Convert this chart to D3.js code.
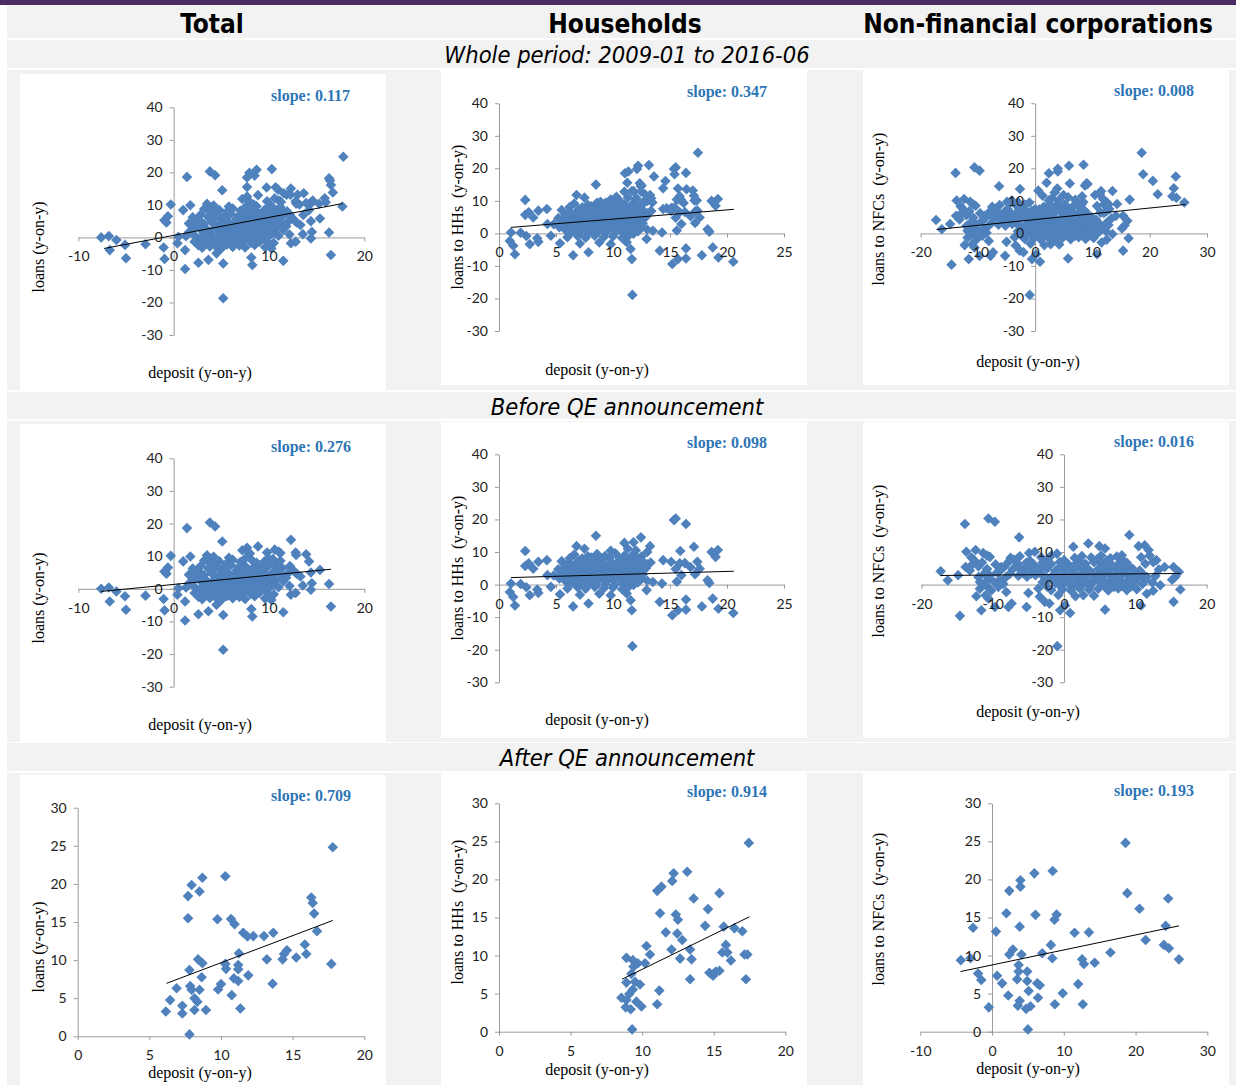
<!DOCTYPE html>
<html>
<head>
<meta charset="utf-8">
<script src="https://cdn.jsdelivr.net/npm/d3@7"></script>
<style>
  body { margin: 0; background: #fff; }
  svg { display: block; }
</style>
</head>
<body>
<svg id="chart"></svg>
<script>
// ---- data ----
const sectors = ["Total", "Households", "Non-financial corporations"];
const periods = ["Whole period: 2009-01 to 2016-06", "Before QE announcement", "After QE announcement"];
const yTitles = ["loans (y-on-y)", "loans to HHs  (y-on-y)", "loans to NFCs  (y-on-y)"];
const xTitle = "deposit (y-on-y)";
// row order: whole, before, after; column order: total, HH, NFC
const slopeLabels = ["0.117", "0.347", "0.008", "0.276", "0.098", "0.016", "0.709", "0.914", "0.193"];
const trendLines = [
  [[-7.3, -3.4], [17.7, 10.4]], [[1.05, 1.85], [20.6, 7.4]], [[-17.2, 1.2], [26.2, 8.9]],
  [[-7.6, -0.8], [16.5, 6.0]], [[1.05, 2.15], [20.6, 4.1]], [[-17.3, 2.8], [16.3, 3.4]],
  [[6.2, 6.95], [17.8, 15.2]], [[8.6, 6.9], [17.5, 15.1]], [[-4.4, 7.9], [26.05, 13.9]]
];
const xTickValues = [
  [-10, 0, 10, 20], [0, 5, 10, 15, 20, 25], [-20, -10, 0, 10, 20, 30],
  [-10, 0, 10, 20], [0, 5, 10, 15, 20, 25], [-20, -10, 0, 10, 20],
  [0, 5, 10, 15, 20], [0, 5, 10, 15, 20], [-10, 0, 10, 20, 30]
];
const yTicksFull = [-30, -20, -10, 0, 10, 20, 30, 40];
const yTicksAfter = [0, 5, 10, 15, 20, 25, 30];

// [deposit, loans] pairs, before the QE announcement
const totalBefore = [
  [-7.6,0],[-6.8,0.4],[-6.7,-3.9],[-6.0,-0.8],[-5.1,-2.3],[-5.0,-6.4],[-2.95,-2.1],[-1.05,-3.1],[-0.95,-6.6],
  [-0.97,5.3],[-0.6,6.5],[-0.75,4.6],[-0.3,10.1],[1.4,18.6],[1.2,-9.7],[1.75,9.9],[1.0,8.4],[2.6,-7.8],
  [3.8,20.3],[4.35,19.1],[5.1,14.5],[5.2,-8.0],[5.2,-18.7],[4.5,-4.9],[3.65,-6.9],[8.85,13.0],[8.15,-6.2],
  [8.25,-8.5],[9.8,11.1],[9.9,-2.1],[10.25,-3.4],[11.5,-7.2],[12.15,0.9],[12.3,15.0],[12.3,-1.8],[12.8,-1.3],
  [12.8,11.1],[12.85,10.4],[13.3,3.8],[13.55,1.0],[13.9,10.6],[14.2,8.4],[14.4,5.0],[14.5,1.7],[14.4,-0.3],
  [15.35,5.8],[16.3,1.5],[16.5,-5.4],[9.9,9.4],[11.0,11.4],[7.8,11.4],[7.7,12.6],[0.5,0.2],[0.4,-1.8],[1.2,-3.9],
  [3.2,8.7],[4.0,9.3],[4.8,8.4],[6.2,8.9],[7.0,8.2],[7.6,9.6],[8.2,8.8],[9.5,8.3],[10.4,9.1],[11.2,8.6],
  [3.5,10.3],[4.2,9.8],[5.8,9.5],[7.2,11.8],[8.0,10.8],[10.6,12.0],[11.2,11.0],
  [3.9,7.8],[5.6,7.9],[7.2,7.6],[8.7,8.0],[10.1,7.7],
  [2.0,6.2],[2.8,6.9],[3.6,6.4],[4.5,7.1],[5.3,6.6],[6.0,7.3],[6.8,6.5],[7.5,7.0],[8.3,6.3],[9.0,7.2],
  [9.8,6.7],[10.6,7.4],[11.4,6.4],[12.2,7.0],
  [2.6,5.6],[4.2,5.8],[5.0,5.5],[6.6,5.7],[7.8,5.4],[8.5,5.9],[9.4,5.6],[11.0,5.8],[12.6,5.5],
  [1.6,4.3],[2.4,4.9],[3.2,4.2],[4.0,4.7],[4.9,4.4],[5.7,5.0],[6.4,4.3],[7.2,4.8],[8.0,4.1],[8.8,4.9],
  [9.6,4.5],[10.4,5.1],[11.2,4.4],[12.0,4.8],[12.9,4.6],
  [2.2,3.4],[3.0,3.7],[4.6,3.5],[5.4,3.8],[6.2,3.3],[7.0,3.6],[7.8,3.4],[8.6,3.8],[9.4,3.5],[10.2,3.7],[11.8,3.4],
  [1.9,2.2],[2.7,2.8],[3.5,2.4],[4.3,2.9],[5.1,2.3],[5.9,2.7],[6.7,2.2],[7.5,2.9],[8.3,2.4],[9.1,2.8],
  [9.9,2.1],[10.7,2.7],[11.5,2.3],
  [1.6,1.6],[3.2,1.4],[4.0,1.8],[4.9,1.5],[5.7,1.3],[6.5,1.7],[7.3,1.5],[8.0,1.9],[8.9,1.4],[9.7,1.6],[10.6,1.3],
  [1.3,0.4],[2.1,0.9],[2.9,0.2],[3.8,0.8],[4.6,0.3],[5.4,0.9],[6.2,0.4],[7.0,0.7],[7.8,0.1],[8.6,0.8],
  [9.4,0.3],[10.2,0.9],[11.0,0.5],
  [2.5,-0.4],[3.4,-0.7],[4.2,-0.3],[5.1,-0.6],[5.9,-0.2],[6.8,-0.7],[7.6,-0.4],[8.4,-0.8],[9.2,-0.3],
  [2.2,-1.3],[3.1,-1.8],[3.9,-1.2],[4.7,-1.7],[5.6,-1.4],[6.4,-1.9],[7.3,-1.2],[8.1,-1.6],[9.0,-1.3],
  [9.8,-1.1],[10.5,-1.7],
  [2.6,-2.4],[4.4,-2.6],[5.6,-2.2],[6.9,-2.5],[8.5,-2.3],
  [3.0,-3.2],[3.8,-2.8],[5.0,-3.4],[6.2,-2.9],[7.5,-3.1],[9.6,-3.0]
];
const hhBefore = [
  [1.05,0.3],[0.95,-2.3],[1.25,-3.8],[1.4,-6.4],[2.3,10.3],[2.3,5.7],[2.6,6.5],[2.7,-3.3],[3.0,4.9],
  [3.45,7.0],[3.35,-1.5],[3.45,-2.6],[4.2,7.5],[4.25,2.9],[4.55,-0.7],[5.35,-3.0],[6.5,-6.7],[6.8,11.8],
  [7.85,-5.8],[8.5,15.0],[11.55,-4.8],[11.65,-7.9],[11.7,-18.9],[12.45,14.5],[13.25,11.8],[14.1,-5.3],
  [14.4,7.5],[15.2,-9.4],[15.35,19.8],[15.5,20.3],[16.4,18.6],[16.4,-4.6],[15.7,-7.9],[16.4,-7.7],
  [17.1,11.6],[17.8,-6.7],[18.75,-4.3],[18.45,0.5],[18.65,10.0],[19.2,10.6],[19.0,8.5],[19.25,-7.4],
  [20.55,-8.7],[15.9,10.3],[15.85,6.5],[17.4,7.0],[17.6,4.9],[18.3,1.3],[12.95,-1.7],[13.5,0.8],[14.3,0.3],
  [1.9,0.2],[2.4,-0.8],
  [6.6,9.2],[7.8,8.7],[8.6,9.4],[9.3,8.8],[10.2,9.6],[11.0,8.9],[11.8,9.3],[12.5,8.6],[11.0,12.8],
  [11.3,11.0],[12.0,10.5],[13.0,10.0],[9.8,10.4],[7.5,11.0],[11.8,13.0],
  [6.2,8.1],[7.3,8.0],[8.1,8.3],[9.0,7.9],[9.7,8.2],[10.6,8.0],[11.5,8.2],[12.2,7.9],
  [5.5,7.2],[6.2,6.7],[7.0,7.4],[7.7,6.8],[8.4,7.3],[9.1,6.6],[9.8,7.1],[10.5,6.9],[11.2,7.5],[11.9,6.7],
  [12.6,7.2],[13.3,6.8],[15.1,7.0],[16.3,6.6],
  [5.8,6.0],[6.6,5.9],[7.4,6.2],[8.1,5.8],[8.8,6.1],[9.5,5.9],[10.2,6.2],[10.9,5.8],[11.6,6.1],[12.4,6.0],[13.0,6.2],
  [5.2,4.7],[5.9,5.3],[6.6,4.8],[7.3,5.2],[8.0,4.6],[8.7,5.1],[9.4,4.7],[10.1,5.4],[10.8,4.8],[11.5,5.2],
  [12.2,4.6],[12.9,5.1],[15.5,4.8],[16.8,5.3],
  [5.5,4.0],[6.3,3.9],[7.0,4.2],[7.7,3.8],[8.4,4.1],[9.1,3.9],[9.8,4.2],[10.4,3.9],[11.1,4.1],[11.8,3.9],[12.6,4.2],
  [4.8,2.8],[5.6,3.2],[6.3,2.7],[7.0,3.3],[7.7,2.9],[8.4,3.1],[9.1,2.6],[9.8,3.2],[10.5,2.8],[11.2,3.3],
  [11.9,2.7],[12.6,3.1],[16.0,2.9],[17.2,3.2],
  [5.3,1.9],[6.1,2.1],[6.8,1.8],[7.5,2.2],[8.2,1.9],[8.9,2.1],[9.6,1.8],[10.3,2.2],[11.0,1.9],[11.7,2.1],[12.5,1.8],
  [5.8,1.2],[6.5,0.7],[7.2,1.1],[7.9,0.6],[8.7,1.3],[9.4,0.8],[10.1,1.2],[10.8,0.6],[11.5,1.1],[12.2,0.7],
  [13.0,1.2],[15.6,0.9],
  [6.2,0.1],[7.0,-0.2],[7.8,0.2],[8.5,-0.1],[9.3,0.1],[10.1,-0.2],[10.9,0.2],[11.8,-0.1],
  [6.0,-1.2],[6.9,-0.8],[7.6,-1.3],[8.4,-0.7],[9.2,-1.1],[10.0,-0.9],[10.8,-1.4],[11.4,-0.6],
  [7.1,-3.1],[8.8,-2.8],[9.8,-3.3],[11.2,-2.7]
];
const nfcBefore = [
  [-17.3,4.1],[-16.3,1.3],[-14.85,2.9],[-14.6,-9.6],[-13.9,18.6],[-13.7,10.1],[-13.8,5.4],[-12.4,10.6],
  [-12.6,7.5],[-12.3,-3.6],[-11.6,-7.9],[-11.8,0.8],[-11.35,9.7],[-10.6,20.3],[-9.7,19.3],[-10.4,8.5],
  [-10.6,-4.3],[-9.7,-6.9],[-9.2,-0.7],[-8.8,5.4],[-8.1,-2.3],[-7.8,-6.9],[-7.35,-5.8],[-6.3,14.5],
  [-5.25,-6.9],[-5.0,-2.6],[-4.9,9.7],[-4.1,10.1],[-2.7,-5.3],[-2.05,-5.8],[-1.0,9.5],[-0.95,-18.9],
  [-0.55,-7.9],[0.85,-8.7],[0.15,-6.4],[1.3,11.6],[2.7,-3.3],[3.4,12.6],[4.95,11.8],[5.75,-7.7],[5.75,11.1],
  [8.1,9.0],[9.15,15.2],[10.45,11.8],[10.8,-6.4],[11.3,12.1],[11.85,10.6],[11.6,-2.8],[12.5,-1.9],
  [12.95,7.5],[13.5,-0.2],[14.1,5.4],[15.35,5.4],[15.35,-5.3],[15.6,2.4],[16.1,3.9],[16.3,-1.5],[15.15,1.5],
  [-13.0,8.3],[-10.8,8.9],[-7.5,8.2],[-6.2,8.7],[-3.2,8.4],[-1.8,8.9],[1.5,8.2],[2.5,8.8],[3.8,8.3],
  [5.2,8.9],[6.5,8.1],[7.4,8.6],[10.8,8.4],[12.0,8.9],
  [-7.0,7.6],[-4.8,7.4],[-2.4,7.7],[0.0,7.5],[2.2,7.3],[4.6,7.7],[6.0,7.4],[8.2,7.6],
  [-12.8,6.3],[-11.5,6.8],[-9.6,6.2],[-7.8,6.9],[-6.5,6.4],[-5.3,6.7],[-4.2,6.1],[-3.0,6.8],[-1.8,6.3],
  [-0.6,6.9],[0.6,6.2],[1.8,6.7],[3.0,6.4],[4.2,6.9],[5.3,6.3],[6.4,6.8],[7.6,6.2],[8.8,6.7],[11.4,6.4],[12.5,6.9],
  [-12.0,5.6],[-8.4,5.4],[-6.6,5.7],[-5.4,5.3],[-3.0,5.6],[-0.6,5.4],[1.8,5.7],[3.0,5.3],[5.4,5.6],[6.6,5.4],
  [7.8,5.7],[9.0,5.5],
  [-13.2,4.3],[-10.8,4.8],[-9.0,4.2],[-7.2,4.7],[-6.0,4.4],[-4.8,4.9],[-3.6,4.3],[-2.4,4.8],[-1.2,4.2],
  [0.0,4.7],[1.2,4.4],[2.4,4.9],[3.6,4.3],[4.8,4.8],[6.0,4.2],[7.2,4.7],[8.4,4.4],[9.6,4.9],[10.6,4.3],[13.3,4.6],
  [-11.2,3.4],[-9.4,3.7],[-7.6,3.3],[-5.8,3.6],[-4.6,3.4],[-3.4,3.7],[-1.0,3.5],[0.2,3.3],[1.4,3.6],[2.6,3.4],
  [3.8,3.7],[5.0,3.3],[6.2,3.6],[7.4,3.4],[8.6,3.7],[9.8,3.5],[11.0,3.3],
  [-12.0,2.3],[-10.4,2.8],[-8.2,2.2],[-6.4,2.7],[-5.2,2.4],[-4.0,2.9],[-2.8,2.3],[-1.6,2.8],[-0.4,2.2],
  [0.8,2.7],[2.0,2.4],[3.2,2.9],[4.4,2.3],[5.6,2.8],[6.8,2.2],[8.0,2.7],[9.2,2.4],[10.4,2.9],[11.6,2.3],[12.8,2.6],
  [-10.6,1.6],[-9.0,1.4],[-2.2,1.5],[-1.0,1.7],[0.6,1.4],[1.8,1.6],[3.0,1.3],[4.2,1.7],[5.4,1.5],[6.6,1.4],
  [7.8,1.6],[9.0,1.3],[10.2,1.7],[11.4,1.5],
  [-11.2,0.3],[-9.8,0.8],[-8.5,0.2],[-3.0,0.7],[-1.2,0.4],[0.2,0.9],[1.4,0.3],[2.6,0.8],[3.8,0.2],[5.0,0.7],
  [6.2,0.4],[7.4,0.9],[8.6,0.3],[9.8,0.8],[11.0,0.2],[12.4,0.6],
  [-10.8,-0.5],[-2.4,-0.6],[-0.6,-0.3],[1.0,-0.7],[2.4,-0.4],[3.6,-0.6],[5.6,-0.3],[7.0,-0.7],[8.2,-0.4],[9.4,-0.6],
  [-11.8,-1.3],[-10.2,-1.8],[-3.6,-1.2],[-1.8,-1.7],[-0.2,-1.4],[1.0,-1.9],[2.2,-1.2],[3.5,-1.6],[4.8,-1.3],
  [6.2,-1.8],[7.6,-1.2],[8.8,-1.7],[10.2,-1.4],
  [-11.0,-3.3],[-3.4,-3.7],[-0.8,-3.2],[1.6,-3.6],[4.2,-3.4]
];
// after the QE announcement
const totalAfter = [
  [17.8,24.8],[10.3,21.0],[8.7,20.8],[7.95,19.85],[8.5,19.0],[7.7,18.4],[16.3,18.2],[16.4,17.5],[16.5,16.1],
  [7.7,15.5],[9.75,15.35],[10.7,15.4],[10.95,14.7],[11.55,13.6],[11.85,13.1],[12.25,13.15],[13.0,13.15],
  [13.65,13.6],[16.7,13.8],[15.85,12.05],[11.25,10.9],[14.6,11.3],[14.4,10.8],[14.3,10.1],[15.25,10.35],
  [15.95,10.8],[13.2,10.1],[8.4,10.1],[8.7,9.6],[10.3,9.5],[10.35,8.85],[11.2,9.35],[11.2,8.8],[17.7,9.5],
  [7.8,8.7],[11.9,8.0],[8.65,7.75],[10.9,7.6],[11.2,7.25],[13.6,6.9],[7.85,6.6],[6.9,6.3],[7.95,6.1],
  [8.5,6.1],[9.8,6.15],[10.0,6.85],[10.75,5.4],[6.45,4.75],[8.15,5.0],[8.35,4.55],[7.3,4.0],[6.15,3.25],
  [7.3,3.0],[8.15,3.45],[8.95,3.45],[11.35,3.65],[7.8,0.25]
];
const hhAfter = [
  [17.45,24.8],[13.15,21.0],[12.2,20.8],[12.1,19.8],[11.35,19.05],[11.05,18.5],[15.4,18.2],[13.6,17.5],
  [14.6,16.1],[11.25,15.55],[12.35,15.4],[12.5,14.7],[14.4,13.9],[15.7,13.8],[16.45,13.6],[11.65,13.05],
  [12.45,12.9],[17.0,13.2],[12.8,12.05],[10.3,11.25],[15.85,11.4],[12.05,10.8],[13.35,10.8],[10.55,10.15],
  [15.6,10.4],[15.95,10.4],[17.15,10.15],[17.35,10.15],[8.9,9.7],[9.35,9.4],[12.65,9.6],[13.45,9.5],
  [16.2,9.35],[9.7,9.0],[10.2,9.0],[9.4,8.55],[14.7,7.75],[15.15,7.9],[15.4,8.0],[14.95,7.35],[9.25,7.6],
  [13.35,6.9],[17.25,6.9],[8.9,6.45],[9.5,6.55],[9.85,6.2],[9.35,5.55],[11.2,5.4],[9.1,4.95],[8.55,4.45],
  [8.9,4.15],[9.6,3.95],[11.05,3.6],[8.85,3.2],[9.95,3.3],[9.2,2.95],[9.3,0.3]
];
const nfcAfter = [
  [18.6,24.8],[8.45,21.1],[5.9,20.8],[3.95,19.9],[3.95,19.05],[2.4,18.5],[18.85,18.2],[24.55,17.5],
  [20.55,16.15],[2.0,15.55],[6.05,15.35],[9.0,15.4],[8.7,14.7],[-2.65,13.65],[3.85,13.8],[24.2,13.9],
  [0.55,13.15],[11.5,13.0],[13.5,13.05],[21.4,12.05],[8.2,11.4],[23.95,11.4],[24.65,10.95],[2.9,10.8],
  [2.4,10.15],[4.1,10.15],[7.0,10.3],[16.5,10.4],[8.4,9.65],[12.55,9.5],[-4.35,9.4],[-3.0,9.65],[3.7,8.75],
  [12.8,8.9],[14.3,9.05],[26.05,9.5],[-1.95,7.65],[4.9,7.9],[3.7,7.9],[0.7,7.35],[-1.5,6.8],[3.5,6.9],
  [4.9,6.65],[6.3,6.35],[6.65,6.1],[1.4,6.35],[12.0,6.25],[5.1,5.35],[9.85,5.05],[2.25,4.75],[6.4,4.45],
  [-0.45,3.2],[3.85,4.05],[3.6,3.4],[5.35,3.35],[4.75,3.0],[8.75,3.6],[12.65,3.6],[5.0,0.3]
];
const beforeSets = [totalBefore, hhBefore, nfcBefore];
const afterSets = [totalAfter, hhAfter, nfcAfter];

// ---- layout ----
const W = 1236, H = 1085;
const blue = "#4f81bd";
const frames = [
  [20, 74, 366, 316], [441, 70, 366, 315], [863, 70, 366, 315],
  [20, 424, 366, 318], [441, 422, 366, 316], [863, 422, 366, 316],
  [20, 775, 366, 310], [441, 772, 366, 313], [863, 772, 366, 313]
];
const xRanges = [
  [78.3, 364.3], [499, 784], [920.6, 1207],
  [78.3, 364.3], [499, 784], [921.4, 1206.7],
  [77.7, 364.3], [499, 785.3], [920.3, 1207.3]
];
const yRanges = [
  [335, 107.3], [331, 103.3], [331, 103.3],
  [686.7, 458.3], [682.3, 454.3], [682.3, 454.3],
  [1036.3, 807.7], [1031.7, 803.3], [1031.7, 803.3]
];
const xDomains = [[-10, 20], [0, 25], [-20, 30], [-10, 20], [0, 25], [-20, 20], [0, 20], [0, 20], [-10, 30]];
const yTitlePos = [[38, 247], [457, 217], [878, 209], [38, 598], [457, 568], [878, 561], [38, 947], [457, 912], [878, 909]];
const xTitlePos = [[200, 378], [597, 375], [1028, 367], [200, 730], [597, 725], [1028, 717], [200, 1078], [597, 1075], [1028, 1074]];
const slopePos = [[271, 101], [687, 97], [1114, 96], [271, 452], [687, 448], [1114, 447], [271, 801], [687, 797], [1114, 796]];

const svg = d3.select("#chart").attr("width", W).attr("height", H);
svg.append("rect").attr("width", W).attr("height", H).attr("fill", "#fff");
svg.append("rect").attr("width", W).attr("height", 5).attr("fill", "#4b2a63");

const bands = [[5, 33], [40, 28], [70, 320], [392, 27], [421, 321], [743, 28], [773, 312]];
bands.forEach(([y, h]) => {
  svg.append("rect").attr("x", 7).attr("y", y).attr("width", W - 7).attr("height", h).attr("fill", "#f2f2f2");
});

const headFont = "'DejaVu Sans Condensed','DejaVu Sans',sans-serif";
const serif = "'Liberation Serif','Times New Roman',serif";

svg.selectAll(".sector")
  .data(sectors)
  .enter().append("text")
  .attr("class", "sector")
  .attr("x", (d, i) => [212, 625, 1038][i])
  .attr("y", 33)
  .attr("text-anchor", "middle")
  .style("font-family", headFont)
  .style("font-weight", "bold")
  .style("font-size", "26px")
  .text(d => d);

svg.selectAll(".period")
  .data(periods)
  .enter().append("text")
  .attr("class", "period")
  .attr("x", 627)
  .attr("y", (d, i) => [63, 415, 766][i])
  .attr("text-anchor", "middle")
  .style("font-family", headFont)
  .style("font-style", "italic")
  .style("font-size", "23.5px")
  .text(d => d);

const diamond = d3.symbol().type(d3.symbolSquare).size(56);

function styleAxis(g) {
  g.attr("font-family", "Lato, 'Open Sans', sans-serif").attr("font-size", 14);
  g.selectAll(".domain, line").attr("stroke", "#9a9a9a");
  g.selectAll("text").attr("fill", "#222");
}

for (let i = 0; i < 9; i++) {
  const r = Math.floor(i / 3), c = i % 3;
  const pts = r === 0 ? beforeSets[c].concat(afterSets[c]) : r === 1 ? beforeSets[c] : afterSets[c];
  const yTicks = r < 2 ? yTicksFull : yTicksAfter;

  const x = d3.scaleLinear().domain(xDomains[i]).range(xRanges[i]);
  const y = d3.scaleLinear().domain(d3.extent(yTicks)).range(yRanges[i]);

  const g = svg.append("g");
  const [fx, fy, fw, fh] = frames[i];
  g.append("rect").attr("x", fx).attr("y", fy).attr("width", fw).attr("height", fh).attr("fill", "#fff");

  const xAxis = d3.axisBottom(x).tickValues(xTickValues[i]).tickSize(4).tickSizeOuter(0)
    .tickPadding(10).tickFormat(d => String(d));
  const yAxis = d3.axisLeft(y).tickValues(yTicks).tickSize(4).tickSizeOuter(0)
    .tickPadding(7).tickFormat(d => String(d));

  // axis lines under the markers
  g.append("g").attr("transform", `translate(0,${y(0)})`).call(xAxis)
    .call(styleAxis).call(a => a.selectAll("text").remove());
  g.append("g").attr("transform", `translate(${x(0)},0)`).call(yAxis)
    .call(styleAxis).call(a => a.selectAll("text").remove());

  g.selectAll(".pt")
    .data(pts)
    .enter().append("path")
    .attr("class", "pt")
    .attr("d", diamond)
    .attr("transform", d => `translate(${x(d[0])},${y(d[1])}) rotate(45)`)
    .attr("fill", blue);

  g.append("line")
    .attr("x1", x(trendLines[i][0][0])).attr("y1", y(trendLines[i][0][1]))
    .attr("x2", x(trendLines[i][1][0])).attr("y2", y(trendLines[i][1][1]))
    .attr("stroke", "#000").attr("stroke-width", 1);

  // tick labels on top
  g.append("g").attr("transform", `translate(0,${y(0)})`).call(xAxis)
    .call(styleAxis).call(a => { a.select(".domain").remove(); a.selectAll("line").remove(); });
  g.append("g").attr("transform", `translate(${x(0)},0)`).call(yAxis)
    .call(styleAxis).call(a => { a.select(".domain").remove(); a.selectAll("line").remove(); });

  g.append("text")
    .attr("transform", `translate(${yTitlePos[i][0]},${yTitlePos[i][1]}) rotate(-90)`)
    .attr("text-anchor", "middle")
    .attr("dy", "0.35em")
    .style("font-family", serif)
    .style("font-size", "16px")
    .style("white-space", "pre")
    .text(yTitles[c]);

  g.append("text")
    .attr("x", xTitlePos[i][0]).attr("y", xTitlePos[i][1])
    .attr("text-anchor", "middle")
    .style("font-family", serif)
    .style("font-size", "16px")
    .text(xTitle);

  g.append("text")
    .attr("x", slopePos[i][0]).attr("y", slopePos[i][1])
    .style("font-family", serif)
    .style("font-size", "16px")
    .style("font-weight", "bold")
    .attr("fill", "#2e75b6")
    .text("slope: " + slopeLabels[i]);
}
</script>
</body>
</html>
